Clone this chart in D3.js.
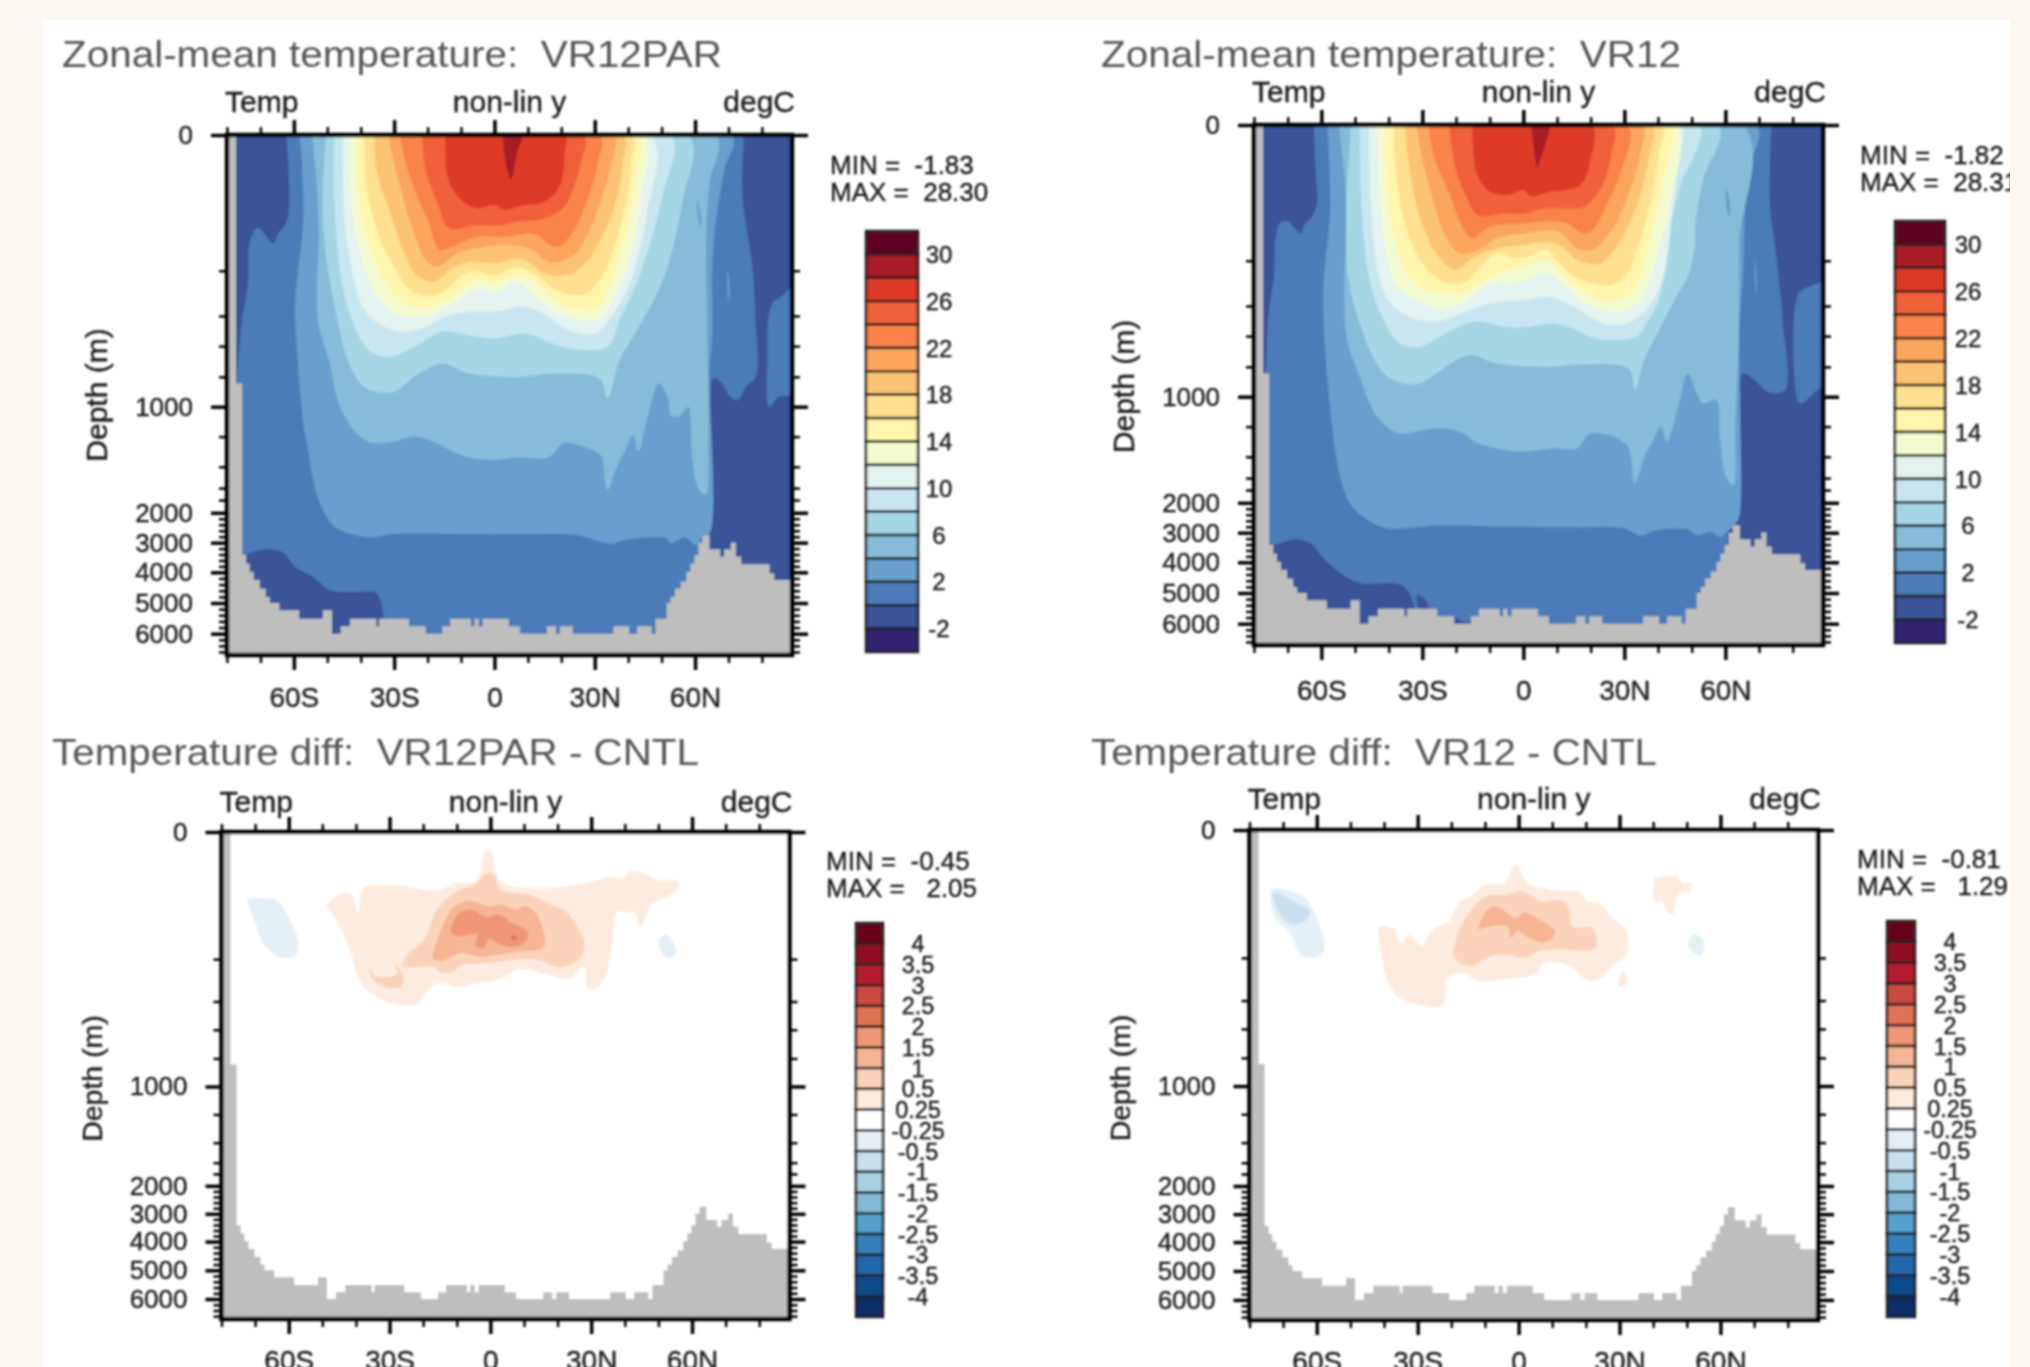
<!DOCTYPE html>
<html>
<head>
<meta charset="utf-8">
<script src="https://cdn.jsdelivr.net/npm/d3@7"></script>
<style>
  html, body { margin: 0; padding: 0; background: #fdf8f1; }
  svg { display: block; }
  text { font-family: "Liberation Sans", Arial, sans-serif; fill: #1a1a1a; stroke: #1a1a1a; stroke-width: .35; white-space: pre; }
  .title { fill: #555; stroke: none; font-size: 36px; }
</style>
</head>
<body>
<div id="chart"></div>
<script>
// Axis values, shared by all four panels
var latTicks = [-80, -70, -60, -50, -40, -30, -20, -10, 0, 10, 20, 30, 40, 50, 60, 70, 80];
var latMajor = [-60, -30, 0, 30, 60];
var latLabels = ['60S', '30S', '0', '30N', '60N'];
var depthMajor = [0, 1000, 2000, 3000, 4000, 5000, 6000];
var depthMinor = [200, 400, 600, 800, 1200, 1400, 1600, 1800, 2200, 2400, 2600, 2800, 3200, 3400, 3600, 3800,
  4200, 4400, 4600, 4800, 5200, 5400, 5600, 5800, 6200, 6400, 6600];
var depthStops = [0, 200, 400, 600, 800, 1000, 1200, 1400, 1600, 1800, 2000, 3000, 4000, 5000, 6000, 6700];
var depthStopFrac = [0, .261, .348, .406, .465, .5225, .58, .638, .679, .702, .7265, .784, .841, .9, .959, 1];

// Colour levels, bottom of the bar first
var tempLevels = [-2, 0, 2, 4, 6, 8, 10, 12, 14, 16, 18, 20, 22, 24, 26, 28, 30];
var tempLabels = ['-2', '', '2', '', '6', '', '10', '', '14', '', '18', '', '22', '', '26', '', '30'];
var tempColors = ['#312071', '#3b5398', '#4b7cb9', '#699fcd', '#87bbd9', '#a6d6e6', '#c8e6f0', '#e4f3ef', '#f4fad0',
  '#fff5ac', '#fee090', '#fdc374', '#fca55d', '#f9834a', '#f0603a', '#de3a26', '#a71c27', '#5e0024'];
var diffLabels = ['-4', '-3.5', '-3', '-2.5', '-2', '-1.5', '-1', '-0.5', '-0.25', '0.25', '0.5', '1', '1.5', '2', '2.5', '3', '3.5', '4'];
var diffColors = ['#0a2f66', '#114b8a', '#2066ac', '#3480ba', '#55a0cd', '#82b8d8', '#a8d1e5', '#c9e1ef', '#e4eff6', '#ffffff',
  '#fdebdf', '#fbd3ba', '#f6b594', '#ef9676', '#e07255', '#ca4a40', '#b41f2e', '#8f0d24', '#67001f'];

// Sea floor depth, each value holds from its latitude to the next one
var floorLat = [-80, -77.3, -75.5, -74.3, -73.2, -72, -70.2, -68.4, -67.2, -64.3, -58.4, -51.3, -48.6, -46, -43.2, -35.3, -34.5,
  -25.6, -20.6, -15.6, -13.2, -7, -6, -4.7, -3.5, 4.3, 7.6, 15.7, 18.4, 19.6, 23.4, 35.6, 40.3, 42.7, 47, 48.2,
  51.5, 52.7, 54, 55.7, 57.4, 58.6, 59.8, 61, 62.2, 64.3, 67.5, 68.7, 70.7, 72.2, 73.8, 82.3, 83.7, 89];
var floorDepth = [0, 844, 3416, 3700, 3980, 4253, 4527, 4802, 5000, 5239, 5511, 5239, 6000, 5761, 5511, 5761, 5511,
  5761, 6000, 5761, 5511, 5761, 5511, 5761, 5511, 5761, 6000, 5761, 6000, 5761, 6000, 5761, 6000, 5761, 6000, 5511,
  5000, 4802, 4527, 4300, 3980, 3700, 3416, 3000, 2750, 3220, 3470, 3220, 2990, 3470, 3730, 4030, 4250, 4250];

// VR12PAR temperature, isotherms as [lat, depth]
var parColdTop = [[-62.3, 0], [-61.9, 125], [-64.9, 147], [-66.1, 160], [-70.8, 137], [-73.2, 158], [-73.8, 270], [-75.5, 427], [-77.3, 844], [-77.3, 0]];
var parColdDeep = [[-75.5, 3470], [-72, 3300], [-67.2, 3220], [-63, 3350], [-59.6, 3810], [-54.3, 4145], [-48.9, 4590], [-40.7, 4640], [-35.3, 4670], [-33, 5460], [-32.2, 6000], [-32.2, 6700], [-76, 6700]];
var parColdNorth = [[74.6, 0], [74.2, 91], [75.8, 150], [76.9, 184], [78.1, 427], [78.1, 800], [75.2, 867], [72.8, 955], [70.5, 933], [68.1, 844], [65.5, 811], [64.5, 1178], [64.3, 2690], [64.3, 6700], [89, 6700], [89, 0]];
var parArctic = [[89, 263], [85.8, 315], [83.5, 337], [82, 404], [81.7, 648], [82.2, 1000], [85, 933], [89, 911]];
var parIso2 = [[-58.4, 0], [-57.8, 27], [-57.2, 125], [-59.6, 344], [-59, 648], [-56.6, 1200], [-56, 1244], [-54.3, 1517], [-51.3, 1958], [-47.8, 2467], [-41.8, 2744], [-37.1, 2822], [-30, 2711], [-23, 2689], [-5.2, 2722], [9, 2722], [24.4, 2744], [35, 3040], [38.5, 2911], [51.5, 2855], [52.7, 3020], [56.9, 2822], [60.4, 3080], [62.2, 2750], [64.3, 2690], [64.5, 950], [64.3, 757], [65.1, 538], [65.1, 198], [66.3, 125], [68.7, 52], [71, 0]];
var parIso4 = [[-54.6, 0], [-53.1, 76], [-52.5, 150], [-53.1, 300], [-52.5, 471], [-49.5, 691], [-47.2, 933], [-44.2, 1089], [-40.7, 1189], [-37.1, 1240], [-30, 1233], [-24.1, 1200], [-18.2, 1233], [-12.3, 1300], [-7.6, 1338], [-.5, 1355], [6.6, 1338], [16, 1338], [18.4, 1290], [20.8, 1240], [30.3, 1300], [32, 1333], [33.8, 1630], [36.2, 1430], [39.1, 1290], [41.5, 1189], [43, 1300], [45.6, 1089], [49.2, 845], [52.1, 955], [52.7, 1055], [55, 1066], [58, 1000], [58.6, 1089], [59.2, 1355], [61.2, 1630], [63.1, 1710], [64, 1178], [63.6, 427], [63.4, 125], [64.5, 66], [66.3, 0]];
var parIso6 = [[-50.4, 0], [-51.3, 125], [-47.8, 359], [-43, 735], [-38.3, 878], [-30, 900], [-24, 800], [-15.8, 713], [-7.6, 778], [6.6, 800], [18.4, 778], [31.4, 811], [33.8, 944], [37.4, 691], [42, 516], [50.4, 241], [56.3, 96], [58, 0]];
var parIso8 = [[-47.8, 0], [-47.8, 101], [-45.4, 270], [-41.8, 471], [-37.1, 636], [-31.2, 669], [-24, 604], [-15.8, 504], [-7.6, 527], [.1, 549], [9.6, 516], [16, 571], [23, 615], [33.8, 604], [37.4, 427], [43.3, 226], [50.4, 86], [52.7, 0]];
var parIso10 = [[-45.4, 0], [-44.8, 125], [-42.4, 212], [-39.5, 359], [-34.8, 449], [-28.8, 504], [-21.7, 482], [-14.7, 404], [-7.6, 381], [.1, 381], [9, 359], [16, 404], [22, 493], [30.3, 516], [35, 404], [40.9, 241], [45.6, 115], [46.8, 0]];
var parIso12 = [[-43.3, 0], [-42.8, 101], [-40, 174], [-35.9, 285], [-31.2, 374], [-25.3, 404], [-19.4, 396], [-12.3, 344], [-5.2, 278], [.1, 293], [6.6, 251], [12.5, 315], [18.4, 381], [25.5, 427], [31.4, 416], [36.2, 300], [40.9, 174], [43.9, 86], [44.4, 0]];
var parIso14 = [[-41.3, 0], [-40.7, 86], [-37.7, 159], [-33.6, 226], [-28.8, 329], [-22.9, 362], [-17, 351], [-11, 300], [-5.2, 241], [.1, 256], [6.6, 219], [12.5, 256], [18.4, 337], [24.4, 374], [30.3, 366], [35, 241], [39.1, 145], [42, 66], [42.7, 0]];
var parIso16 = [[-38.9, 0], [-38.3, 76], [-34.8, 145], [-30, 194], [-25.3, 285], [-18.8, 312], [-14.7, 285], [-7.6, 204], [.1, 219], [6.6, 195], [12.5, 219], [18.4, 285], [26.7, 307], [31.4, 241], [36.2, 159], [39.7, 91], [40.9, 42], [40.9, 0]];
var parIso18 = [[-36, 0], [-35.3, 52], [-31.2, 115], [-27, 174], [-23.5, 219], [-18, 248], [-13.5, 199], [-7.6, 187], [.7, 189], [6.6, 182], [10.2, 187], [14.9, 212], [22, 219], [27.3, 189], [32.6, 145], [36.8, 91], [38.3, 42], [38.5, 0]];
var parIso20 = [[-31.8, 0], [-30, 42], [-27.7, 86], [-24, 145], [-20.6, 184], [-17, 194], [-11, 174], [-5.2, 167], [4.3, 162], [11.3, 169], [16, 187], [19.6, 187], [24.4, 174], [28.5, 140], [32.6, 86], [35, 42], [35.6, 0]];
var parIso22 = [[-28.3, 0], [-26.5, 42], [-23.5, 86], [-20, 125], [-16.4, 169], [-12.3, 164], [-5.2, 150], [3, 150], [10.2, 145], [12.5, 147], [16.7, 162], [19.6, 164], [24.4, 135], [28.5, 86], [30.9, 42], [31.4, 0]];
var parIso24 = [[-21.7, 0], [-20.6, 52], [-17, 101], [-13.7, 137], [-5.2, 133], [1.9, 133], [6.6, 128], [14.9, 123], [20.8, 106], [23.8, 76], [26.1, 37], [26.7, 0]];
var parIso26 = [[-14.7, 0], [-14.4, 52], [-12.9, 76], [-9.9, 96], [-5.2, 108], [.1, 103], [3, 110], [9, 103], [13.7, 101], [17.8, 88], [20.2, 66], [21, 27], [21, 0]];
var parIso28 = [[2.5, 0], [3, 30], [3.9, 52], [4.8, 66], [5.8, 52], [6.6, 30], [8, 0]];
var parSliverA = [[60.5, 94], [61.5, 110], [61.9, 136], [61, 125]];
var parSliverB = [[69.6, 198], [70.2, 240], [70.2, 344], [69.7, 300]];

// VR12 temperature, isotherms as [lat, depth]
var vrColdTop = [[-62.2, 0], [-61.6, 76], [-61.3, 115], [-62.7, 135], [-65, 147], [-66.1, 160], [-70.1, 142], [-72.4, 145], [-73.5, 164], [-74.1, 271], [-75.8, 471], [-76.9, 844], [-77.5, 844], [-77.5, 0]];
var vrColdDeep = [[-75.2, 3470], [-72.4, 3360], [-67.8, 3220], [-63.3, 3350], [-58.8, 3930], [-49.7, 4640], [-36, 4750], [-32.6, 5350], [-32.2, 6000], [-32.2, 6700], [-76, 6700]];
var vrColdBlobA = [[-31.6, 5040], [-29.3, 5190], [-28.2, 5520], [-30.5, 5570], [-31.6, 5350]];
var vrColdBlobB = [[-20.3, 5780], [-16.9, 5950], [-15.2, 5890], [-16.3, 6120], [-20.3, 6120]];
var vrColdNorth = [[73.7, 0], [73.2, 115], [74.9, 184], [76, 300], [77.1, 516], [77.7, 955], [72.6, 967], [69.8, 911], [65.2, 844], [64.1, 1133], [64.1, 6700], [89, 6700], [89, 0]];
var vrArctic = [[89, 290], [85, 315], [82.2, 337], [80.7, 404], [80.5, 867], [82.2, 1044], [87.3, 955], [89, 930]];
var vrIso2 = [[-58.2, 0], [-57.4, 125], [-59.3, 300], [-59, 648], [-57.1, 1133], [-55.9, 1355], [-54.2, 1628], [-50.8, 2133], [-45.2, 2633], [-40.7, 2855], [-31.6, 2822], [-23.7, 2744], [-7.8, 2800], [14.8, 2822], [29.6, 2855], [35.2, 3110], [38.6, 2933], [48.8, 2889], [51.6, 3080], [55.6, 2967], [58.4, 3135], [60.1, 3020], [63, 2689], [64.1, 2467], [64.4, 1067], [64.1, 538], [65.2, 271], [65.8, 125], [66.9, 66], [69.2, 0]];
var vrIso4 = [[-54.8, 0], [-53.1, 76], [-52.5, 150], [-53.1, 271], [-52.5, 604], [-48.6, 867], [-43.5, 1133], [-37.3, 1244], [-31.6, 1233], [-25.4, 1211], [-19.1, 1233], [-13.5, 1311], [-7.8, 1344], [-1, 1367], [9.2, 1344], [16, 1344], [19.9, 1244], [30.7, 1322], [33, 1683], [36.4, 1378], [38.6, 1290], [40.9, 1200], [42.6, 1300], [46, 1067], [48.8, 844], [51.6, 978], [53.3, 1044], [57.3, 1022], [58.4, 1290], [60.1, 1577], [62.4, 1710], [63, 1178], [64.1, 538], [64.1, 174], [65.2, 0]];
var vrIso6 = [[-51.1, 0], [-52.5, 115], [-52, 271], [-49.2, 471], [-44.1, 757], [-39.5, 878], [-31.6, 915], [-25.9, 844], [-16.3, 724], [-7.8, 778], [6.9, 800], [18.2, 783], [31.3, 811], [33.2, 955], [35.8, 757], [39.8, 582], [45.4, 359], [48.8, 271], [51, 174], [51, 150], [53.3, 81], [57.9, 0]];
var vrIso8 = [[-48.6, 0], [-48, 125], [-45.8, 271], [-42.4, 449], [-37.3, 637], [-31.6, 674], [-24.8, 604], [-16.9, 516], [-12.3, 504], [-5.5, 538], [.1, 542], [9.2, 516], [14.8, 549], [21.6, 615], [33.5, 604], [36.4, 516], [39.8, 388], [42.6, 212], [44.3, 135], [47.1, 81], [50.5, 47], [52.2, 0]];
var vrIso10 = [[-45.8, 0], [-45.2, 125], [-42.9, 271], [-39.5, 388], [-32.7, 482], [-25.9, 504], [-18, 449], [-10.1, 388], [.1, 374], [8, 362], [14.8, 404], [23.9, 516], [30.7, 516], [36.4, 427], [40.9, 300], [44.3, 125], [46, 52], [46.5, 0]];
var vrIso12 = [[-43.5, 0], [-42.9, 76], [-40.7, 189], [-37.3, 315], [-31.6, 374], [-23.7, 415], [-16.9, 374], [-10.1, 300], [-1, 293], [6.9, 251], [12.6, 315], [20.5, 404], [28.4, 438], [34.7, 374], [39.8, 189], [43.7, 110], [45, 0]];
var vrIso14 = [[-41.2, 0], [-40.7, 86], [-38.4, 164], [-33.9, 271], [-28.2, 337], [-19.1, 344], [-13.5, 307], [-7.8, 256], [.1, 226], [6.9, 199], [12.6, 278], [20.5, 359], [28.4, 374], [33, 329], [37.5, 174], [42, 66], [43.7, 0]];
var vrIso16 = [[-38.4, 0], [-37.8, 76], [-34.4, 159], [-29.3, 226], [-23.7, 293], [-18, 300], [-13.5, 241], [-7.8, 189], [-3.3, 195], [.7, 194], [6.9, 184], [11.4, 226], [17.1, 285], [26.2, 307], [30.7, 256], [36.4, 140], [40.3, 42], [40.9, 0]];
var vrIso18 = [[-35.2, 0], [-33.9, 61], [-30.5, 140], [-25.9, 189], [-20.3, 241], [-14.6, 195], [-7.8, 182], [.1, 177], [6.9, 172], [11.4, 179], [16, 199], [22.8, 212], [28.4, 174], [34, 115], [37.5, 42], [38, 0]];
var vrIso20 = [[-31.8, 0], [-29.9, 52], [-27.1, 106], [-23.1, 164], [-19.1, 189], [-14.6, 187], [-7.8, 167], [.1, 160], [10.3, 157], [16, 182], [20.5, 184], [25, 164], [30.7, 110], [34.7, 42], [35.2, 0]];
var vrIso22 = [[-28.2, 0], [-26.5, 47], [-22, 101], [-18.6, 145], [-15.2, 167], [-10.1, 150], [.1, 145], [6.9, 142], [12.6, 144], [17.7, 159], [20.5, 155], [23.9, 125], [28.4, 76], [30.9, 0]];
var vrIso24 = [[-22, 0], [-20.3, 61], [-16.9, 106], [-13.5, 133], [-5.5, 130], [.1, 131], [5.8, 123], [13.7, 123], [18.2, 120], [23.3, 91], [26.2, 42], [26.5, 0]];
var vrIso26 = [[-15.2, 0], [-14.6, 52], [-13.5, 76], [-10.1, 98], [-4.4, 103], [0, 96], [2.4, 105], [8, 98], [12.6, 96], [17.1, 88], [19.9, 52], [20.3, 0]];
var vrIso28 = [[2.4, 0], [3, 30], [3.6, 50], [4.1, 64], [5, 50], [6.5, 30], [7.5, 0]];
var vrSliverA = [[60.1, 91], [61.2, 110], [61.3, 136], [60.4, 125]];
var vrSliverB = [[68.7, 195], [69.2, 250], [69.2, 350], [68.8, 300]];

// VR12PAR - CNTL, outlines as [lat, depth]
var parDiff025 = [[-49, 114], [-43.6, 95], [-41.1, 99], [-39.4, 128], [-37.6, 88], [-27.7, 84], [-15.8, 92], [-9.8, 80], [-4.4, 78], [-1.4, 30], [.1, 30], [3.1, 78], [15, 88], [28.9, 80], [35.8, 70], [39.3, 72], [41.3, 62], [46.7, 67], [49.2, 75], [56.2, 78], [55.2, 93], [51.7, 104], [48.2, 112], [44.7, 149], [42.8, 125], [41.3, 127], [37.8, 125], [36.3, 175], [34.3, 277], [31.3, 340], [28.7, 332], [28.1, 238], [25.4, 269], [23.9, 293], [16, 269], [9, 246], [3.1, 293], [-4.9, 317], [-8.8, 332], [-15.8, 317], [-19.2, 357], [-21.7, 416], [-28.7, 416], [-35.1, 364], [-38.6, 309], [-41.6, 190], [-44.5, 151]];
var parDiff05 = [[-26.2, 230], [-24.7, 193], [-19.7, 169], [-15.8, 122], [-9.8, 93], [-3.9, 80], [-1.9, 67], [1.1, 67], [3.1, 91], [12, 99], [17, 112], [22.9, 127], [26.4, 154], [28.1, 180], [25.9, 206], [20.4, 238], [15, 206], [8.5, 201], [2.1, 214], [-3.9, 222], [-8.8, 230], [-11.3, 261], [-14.8, 261], [-16.8, 238], [-25.7, 238]];
var parDiff05Hook = [[-36.1, 235], [-34.4, 277], [-30.9, 285], [-27.7, 265], [-29.1, 206], [-25.7, 293], [-26.7, 332], [-31.6, 332], [-35.1, 293]];
var parDiff1 = [[-17.3, 193], [-13.8, 143], [-10.8, 117], [-5.9, 108], [-.4, 117], [3.1, 114], [8, 122], [10, 116], [13.5, 127], [16, 180], [8, 188], [2.1, 193], [-3.9, 196], [-8.8, 190], [-13.8, 207], [-16.8, 203]];
var parDiff15 = [[-11.8, 154], [-9.8, 130], [-5.9, 122], [-.9, 135], [2.1, 130], [6.5, 143], [11, 156], [10.5, 172], [7, 181], [2.1, 175], [-.4, 167], [-1.9, 182], [-4.4, 179], [-3.9, 161], [-8.8, 164], [-11.3, 161]];
var parDiff2 = [[5.9, 163], [8, 165], [7, 170]];
var parDiffCold = [[-72.5, 105], [-63.5, 108], [-60.8, 127], [-57.2, 172], [-58.1, 194], [-62.6, 197], [-67.1, 178], [-69.8, 146]];
var parDiffColdN = [[50.2, 169], [52.2, 161], [54.2, 172], [55.2, 190], [53.2, 198], [50.7, 188]];

// VR12 - CNTL, outlines as [lat, depth]
var vrDiff025 = [[-41.8, 152], [-40.4, 150], [-36.9, 155], [-35.9, 171], [-34.4, 177], [-32.9, 164], [-28.5, 182], [-27, 166], [-24.5, 152], [-20.6, 143], [-17.6, 112], [-13.6, 101], [-9.7, 85], [-4.3, 83], [-.8, 54], [2.7, 83], [9.1, 93], [18.5, 98], [20.5, 112], [23.9, 114], [27.9, 138], [31.8, 156], [32.3, 192], [27.9, 239], [23.9, 302], [20, 302], [16, 247], [8.1, 220], [4.6, 278], [-4.7, 302], [-11.7, 310], [-16.6, 270], [-21.1, 294], [-22.1, 333], [-21.6, 372], [-23, 440], [-28.5, 435], [-35.4, 388], [-38.9, 310], [-40.9, 192]];
var vrDiff05 = [[-19.6, 192], [-17.6, 156], [-13.6, 122], [-9.7, 104], [-3.8, 101], [.7, 96], [7.1, 112], [10.6, 109], [14.5, 117], [16, 151], [21.5, 153], [23.4, 177], [22, 187], [12.1, 187], [5.6, 190], [2.2, 200], [-3.8, 195], [-9.7, 200], [-13.6, 239], [-17.6, 223]];
var vrDiff1 = [[-12.2, 156], [-9.7, 127], [-6.7, 119], [-.8, 138], [1.7, 129], [7.1, 143], [10.6, 156], [10.1, 169], [7.1, 176], [2.2, 166], [-.3, 158], [-2.3, 169], [-3.3, 151], [-7.7, 150]];
var vrDiffNorth = [[40.3, 75], [46.7, 72], [48.7, 83], [51.4, 83], [50.6, 98], [47.7, 98], [45.7, 132], [44.2, 127], [42.2, 109], [40.3, 114]];
var vrDiffDrop = [[30.9, 255], [32.3, 302], [31.4, 333], [29.7, 333]];
var vrDiffCold = [[-74, 93], [-72, 91], [-64.1, 104], [-60.6, 130], [-57.7, 182], [-58.7, 195], [-64.1, 198], [-68.1, 161], [-72.5, 135]];
var vrDiffCold05 = [[-73.2, 101], [-72, 98], [-66.1, 114], [-62.1, 127], [-63.1, 140], [-67.1, 148], [-71, 132]];
var vrDiffColdN = [[50.1, 177], [52.1, 163], [54.6, 171], [55.1, 190], [53.6, 197], [51.1, 187]];

// Layers per panel: colour index and outline, painted in this order
var parLayers = [[1, parColdTop], [1, parColdDeep], [1, parColdNorth], [2, parArctic], [3, parIso2], [4, parIso4], [5, parIso6], [6, parIso8],
  [7, parIso10], [8, parIso12], [9, parIso14], [10, parIso16], [11, parIso18], [12, parIso20], [13, parIso22], [14, parIso24], [15, parIso26], [16, parIso28],
  [3, parSliverA], [3, parSliverB]];
var vrLayers = [[1, vrColdTop], [1, vrColdDeep], [1, vrColdBlobA], [1, vrColdBlobB], [1, vrColdNorth], [2, vrArctic], [3, vrIso2], [4, vrIso4], [5, vrIso6], [6, vrIso8],
  [7, vrIso10], [8, vrIso12], [9, vrIso14], [10, vrIso16], [11, vrIso18], [12, vrIso20], [13, vrIso22], [14, vrIso24], [15, vrIso26], [16, vrIso28],
  [3, vrSliverA], [3, vrSliverB]];
var parDiffLayers = [[8, parDiffCold], [8, parDiffColdN], [10, parDiff025], [11, parDiff05], [11, parDiff05Hook], [12, parDiff1], [13, parDiff15], [14, parDiff2]];
var vrDiffLayers = [[8, vrDiffCold], [7, vrDiffCold05], [8, vrDiffColdN], [10, vrDiff025], [10, vrDiffNorth], [10, vrDiffDrop], [11, vrDiff05], [12, vrDiff1]];

// Where each panel sits on the page
var panels = [
  { id: 'a', title: 'Zonal-mean temperature:  VR12PAR', titleX: 62, titleY: 67, titleW: 660, left: 227, right: 792, top: 135, bottom: 655, xPad: 17, labelGap: 23,
    depthFont: 30, depthDy: 0, min: 'MIN =  -1.83', max: 'MAX =  28.30', statX: 830, statY: 174, barX: 866, barW: 52, barTop: 231, barBottom: 652, labelX: 939, barFont: 24,
    base: 2, layers: parLayers, colors: tempColors, labels: tempLabels },
  { id: 'b', title: 'Zonal-mean temperature:  VR12', titleX: 1101, titleY: 67, titleW: 580, left: 1254, right: 1823, top: 125, bottom: 645, xPad: 20, labelGap: 23,
    depthFont: 30, depthDy: 1.5, min: 'MIN =  -1.82', max: 'MAX =  28.31', statX: 1860, statY: 164, barX: 1895, barW: 50, barTop: 221, barBottom: 643, labelX: 1968, barFont: 24,
    base: 2, layers: vrLayers, colors: tempColors, labels: tempLabels },
  { id: 'c', title: 'Temperature diff:  VR12PAR - CNTL', titleX: 52, titleY: 765, titleW: 647, left: 221.5, right: 789.5, top: 832, bottom: 1319, xPad: 16, labelGap: 20,
    depthFont: 28.5, depthDy: 3, min: 'MIN =  -0.45', max: 'MAX =   2.05', statX: 826, statY: 870, barX: 856, barW: 27, barTop: 923, barBottom: 1317, labelX: 918, barFont: 23.5,
    base: 9, layers: parDiffLayers, colors: diffColors, labels: diffLabels },
  { id: 'd', title: 'Temperature diff:  VR12 - CNTL', titleX: 1091, titleY: 765, titleW: 566, left: 1249.5, right: 1818, top: 830, bottom: 1320, xPad: 16, labelGap: 21,
    depthFont: 28.5, depthDy: 3, min: 'MIN =  -0.81', max: 'MAX =   1.29', statX: 1857, statY: 868, barX: 1887, barW: 28, barTop: 921, barBottom: 1317, labelX: 1950, barFont: 23.5,
    base: 9, layers: vrDiffLayers, colors: diffColors, labels: diffLabels }
];

var svg = d3.select('#chart').append('svg').attr('width', 2030).attr('height', 1367);
var defs = svg.append('defs');

// The source is a resampled bitmap, so everything is a little soft
defs.append('filter').attr('id', 'soft').attr('x', 0).attr('y', 0)
  .attr('filterUnits', 'userSpaceOnUse').attr('width', 2030).attr('height', 1367)
  .append('feGaussianBlur').attr('stdDeviation', 0.8);
defs.append('clipPath').attr('id', 'page').append('rect')
  .attr('x', 44).attr('y', 20).attr('width', 1966).attr('height', 1347);

svg.append('rect').attr('x', 44).attr('y', 20).attr('width', 1966).attr('height', 1347).attr('fill', '#fff');
var page = svg.append('g').attr('clip-path', 'url(#page)').append('g').attr('filter', 'url(#soft)');

/**
 * Ticks for one side of a frame, with a long major set and a short minor set.
 */
var drawTicks = function(g, axisFn, scale, major, minor, size, format, pad, font) {
  g.append('g').call(axisFn(scale).tickValues(minor).tickSize(8).tickFormat(''))
    .call(function(s) { s.select('.domain').remove(); s.selectAll('line').attr('stroke', '#000').attr('stroke-width', 2.5); });
  var big = g.append('g').call(axisFn(scale).tickValues(major).tickSize(size).tickPadding(pad).tickFormat(format));
  big.select('.domain').remove();
  big.selectAll('line').attr('stroke', '#000').attr('stroke-width', 3.5);
  big.selectAll('text').attr('font-size', font).attr('fill', '#1a1a1a').style('font-family', '"Liberation Sans", Arial, sans-serif');
};

/**
 * Draw one contour panel with its frame, axes, colour bar and statistics.
 */
var drawPanel = function(p) {
  var x = d3.scaleLinear().domain([-80, 89]).range([p.left, p.right]);
  var y = d3.scaleLinear().domain(depthStops)
    .range(depthStopFrac.map(function(f) { return p.top + f * (p.bottom - p.top); }));

  defs.append('clipPath').attr('id', 'frame-' + p.id).append('rect')
    .attr('x', p.left).attr('y', p.top).attr('width', p.right - p.left).attr('height', p.bottom - p.top);

  var plot = page.append('g').attr('clip-path', 'url(#frame-' + p.id + ')');
  plot.append('rect').attr('x', p.left).attr('y', p.top)
    .attr('width', p.right - p.left).attr('height', p.bottom - p.top)
    .attr('fill', p.colors[p.base]);

  var line = d3.line()
    .x(function(d) { return x(d[0]); })
    .y(function(d) { return y(d[1]); })
    .curve(d3.curveCatmullRom.alpha(0.5));

  plot.selectAll('path.level').data(p.layers).enter().append('path')
    .attr('class', 'level')
    .attr('d', function(d) { return line(d[1].concat([d[1][0]])); })
    .attr('fill', function(d) { return p.colors[d[0]]; });

  var floor = d3.area()
    .x(function(d) { return x(d); })
    .y0(y(6700))
    .y1(function(d, i) { return y(floorDepth[i]); })
    .curve(d3.curveStepAfter);
  plot.append('path').attr('d', floor(floorLat)).attr('fill', '#bebebe');

  // Frame and ticks on all four sides
  page.append('rect').attr('x', p.left).attr('y', p.top)
    .attr('width', p.right - p.left).attr('height', p.bottom - p.top)
    .attr('fill', 'none').attr('stroke', '#000').attr('stroke-width', 4.5);

  var latFormat = function(d) { return latLabels[latMajor.indexOf(d)]; };
  var none = function() { return ''; };
  var latMinor = latTicks.filter(function(d) { return latMajor.indexOf(d) < 0; });
  drawTicks(page.append('g').attr('transform', 'translate(0,' + p.bottom + ')'), d3.axisBottom, x, latMajor, latMinor, 15, latFormat, p.xPad, 28);
  drawTicks(page.append('g').attr('transform', 'translate(0,' + p.top + ')'), d3.axisTop, x, latMajor, latMinor, 15, none, 0, 25);
  drawTicks(page.append('g').attr('transform', 'translate(' + p.left + ',0)'), d3.axisLeft, y, depthMajor, depthMinor, 16, String, 18, 26);
  drawTicks(page.append('g').attr('transform', 'translate(' + p.right + ',0)'), d3.axisRight, y, depthMajor, depthMinor, 16, none, 0, 25);
  page.selectAll('text[dy=".32em"]').attr('dy', '.39em');

  // Corner labels and axis title
  var labelY = p.top - p.labelGap;
  page.append('text').attr('x', p.left - 2).attr('y', labelY).attr('font-size', 30).text('Temp');
  page.append('text').attr('x', (p.left + p.right) / 2).attr('y', labelY).attr('font-size', 30)
    .attr('text-anchor', 'middle').text('non-lin y');
  page.append('text').attr('x', p.right + 3).attr('y', labelY).attr('font-size', 30)
    .attr('text-anchor', 'end').text('degC');
  page.append('text').attr('transform', 'translate(' + (p.left - 120) + ',' + ((p.top + p.bottom) / 2 + p.depthDy) + ') rotate(-90)')
    .attr('font-size', p.depthFont).attr('text-anchor', 'middle').text('Depth (m)');

  page.append('text').attr('x', p.statX).attr('y', p.statY).attr('font-size', 26).text(p.min);
  page.append('text').attr('x', p.statX).attr('y', p.statY + 27).attr('font-size', 26).text(p.max);

  // Colour bar, top box is the last colour; a label sits on the line above box i
  var boxes = d3.range(p.colors.length).reverse();
  var band = d3.scaleBand().domain(boxes).range([p.barTop, p.barBottom]);
  page.selectAll('rect.box-' + p.id).data(boxes).enter().append('rect')
    .attr('class', 'box-' + p.id)
    .attr('x', p.barX).attr('width', p.barW)
    .attr('y', function(d) { return band(d); })
    .attr('height', band.bandwidth())
    .attr('fill', function(d) { return p.colors[d]; })
    .attr('stroke', '#222').attr('stroke-width', 2.5);

  page.selectAll('text.bar-' + p.id).data(p.labels).enter().append('text')
    .attr('class', 'bar-' + p.id)
    .attr('x', p.labelX)
    .attr('y', function(d, i) { return band(i); })
    .attr('dy', '.36em')
    .attr('font-size', p.barFont)
    .attr('text-anchor', 'middle')
    .text(function(d) { return d; });

  page.append('text').attr('class', 'title').attr('x', p.titleX).attr('y', p.titleY)
    .attr('textLength', p.titleW).attr('lengthAdjust', 'spacingAndGlyphs').text(p.title);
};

panels.forEach(drawPanel);
</script>
</body>
</html>
